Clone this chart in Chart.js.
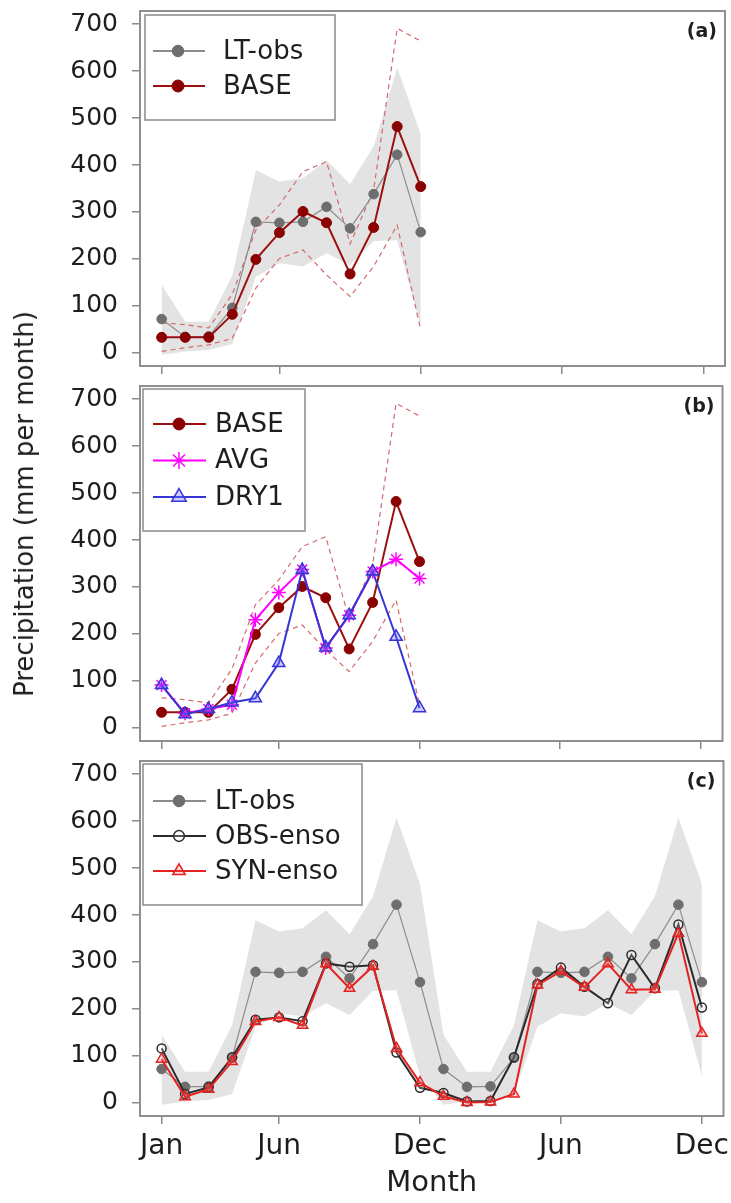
<!DOCTYPE html>
<html>
<head>
<meta charset="utf-8">
<title>Monthly precipitation</title>
<script src="https://cdn.jsdelivr.net/npm/chart.js@4.4.1/dist/chart.umd.min.js"></script>
<style>
  html, body { margin: 0; padding: 0; background: #fff; }
  #page { position: relative; width: 731px; height: 1203px; overflow: hidden; }
  .panel { position: absolute; left: 0; width: 731px; }
  #ylab {
    position: absolute; left: 24px; top: 504px;
    transform: translate(-50%, -50%) rotate(-90deg);
    white-space: nowrap; font: 26px 'DejaVu Sans'; line-height: 1; color: #1e1e1e;
  }
</style>
</head>
<body>
<div id="page">
  <div class="panel" style="top:0;height:376px"><canvas id="chartA"></canvas></div>
  <div class="panel" style="top:376px;height:376px"><canvas id="chartB"></canvas></div>
  <div class="panel" style="top:752px;height:451px"><canvas id="chartC"></canvas></div>
  <div id="ylab">Precipitation (mm per month)</div>
</div>
<script>
// ---- data (mm per month) ----
const months = [1, 2, 3, 4, 5, 6, 7, 8, 9, 10, 11, 12, 13, 14, 15, 16, 17, 18, 19, 20, 21, 22, 23, 24];
const tickMonths = [1, 6, 12, 18, 24];
const tickNames = ['Jan', 'Jun', 'Dec', 'Jun', 'Dec'];
const yTicks = [0, 100, 200, 300, 400, 500, 600, 700];

// long-term observed climatology and its spread
const ltObs = [72, 34, 35, 96, 279, 277, 279, 311, 265, 338, 422, 257];
const ltHigh = [145, 66, 66, 165, 389, 365, 372, 410, 359, 440, 607, 466];
const ltLow = [-4, 3, 6, 19, 162, 191, 184, 212, 187, 238, 240, 57];

// BASE scenario and its range
const base = [33, 33, 33, 82, 199, 256, 301, 277, 168, 267, 482, 354];
const baseHigh = [64, 60, 53, 125, 262, 315, 386, 407, 232, 347, 691, 664];
const baseLow = [3, 11, 17, 31, 138, 201, 219, 166, 120, 184, 272, 49];

const avg = [91, 31, 40, 49, 230, 288, 337, 170, 240, 333, 359, 318];
const dry1 = [91, 29, 40, 54, 63, 138, 336, 171, 240, 333, 194, 42];

// two-year ENSO sequences
const obsEnso = [116, 19, 33, 97, 177, 182, 174, 297, 290, 293, 107, 32,
                 21, 3, 4, 97, 253, 288, 247, 212, 315, 244, 380, 203];
const synEnso = [93, 13, 29, 88, 173, 182, 165, 296, 244, 291, 116, 43,
                 14, 1, 2, 19, 251, 280, 246, 296, 241, 242, 361, 148];

Chart.defaults.font.family = "'DejaVu Sans', sans-serif";
Chart.defaults.color = '#1e1e1e';

const pts = vals => vals.map((v, i) => ({ x: months[i], y: v }));
const TICK = '#8a8a8a';

// box, legend and panel tag
const framePlugin = {
  id: 'frame',
  afterDraw(chart, args, opts) {
    const { ctx, chartArea: a } = chart;
    ctx.save();
    ctx.setLineDash([]);
    ctx.strokeStyle = '#8f8f8f';
    ctx.lineWidth = 2;
    ctx.strokeRect(a.left, a.top, a.right - a.left, a.bottom - a.top);

    const lg = opts.legend;
    const bx = a.left + lg.x, by = a.top + lg.y;
    ctx.fillStyle = '#fff';
    ctx.fillRect(bx, by, lg.w, lg.h);
    ctx.strokeStyle = '#8a8a8a';
    ctx.lineWidth = 1.5;
    ctx.strokeRect(bx, by, lg.w, lg.h);

    lg.rows.forEach((idx, k) => {
      const ds = chart.data.datasets[idx];
      const y = by + lg.first + k * lg.step;
      ctx.setLineDash([]);
      ctx.strokeStyle = ds.borderColor;
      ctx.lineWidth = Math.max(ds.borderWidth, 1.8);
      ctx.beginPath();
      ctx.moveTo(a.left + lg.lineX0, y);
      ctx.lineTo(a.left + lg.lineX1, y);
      ctx.stroke();
      ctx.fillStyle = ds.pointBackgroundColor;
      ctx.strokeStyle = ds.pointBorderColor;
      ctx.lineWidth = ds.pointBorderWidth;
      Chart.helpers.drawPoint(ctx, {
        pointStyle: ds.pointStyle, radius: ds.pointRadius * 1.2,
        borderWidth: ds.pointBorderWidth, rotation: 0
      }, a.left + lg.markX, y);
      ctx.fillStyle = '#1e1e1e';
      ctx.font = "26px 'DejaVu Sans'";
      ctx.textAlign = 'left';
      ctx.textBaseline = 'middle';
      ctx.fillText(ds.label, a.left + lg.textX, y + 1);
    });

    ctx.font = "bold 19px 'DejaVu Sans'";
    ctx.fillStyle = '#1e1e1e';
    ctx.textAlign = 'right';
    ctx.textBaseline = 'middle';
    ctx.fillText(opts.tag, a.right - 8, a.top + 21);
    ctx.restore();
  }
};

function xScale(axisHeight, showLabels) {
  return {
    type: 'linear', min: 0.08, max: 24.92,
    afterBuildTicks: s => { s.ticks = tickMonths.map(v => ({ value: v })); },
    afterFit: s => { s.height = axisHeight; s.paddingLeft = 0; s.paddingRight = 0; },
    grid: { drawOnChartArea: false, drawTicks: true, tickLength: 8, color: TICK, lineWidth: 1.5 },
    border: { display: false },
    ticks: {
      display: showLabels, padding: 6, autoSkip: false, maxRotation: 0,
      font: { size: 28 }, callback: (v, i) => tickNames[i]
    },
    title: {
      display: showLabels, text: 'Month', font: { size: 29 },
      padding: { top: 0, bottom: 2 }
    }
  };
}

function yScale() {
  return {
    min: -28, max: 728,
    afterBuildTicks: s => { s.ticks = yTicks.map(v => ({ value: v })); },
    afterFit: s => { s.width = 140; s.paddingTop = 0; s.paddingBottom = 0; },
    grid: { drawOnChartArea: false, drawTicks: true, tickLength: 8, color: TICK, lineWidth: 1.5 },
    border: { display: false },
    ticks: { padding: 14, font: { size: 25 } }
  };
}

function band(lo, hi) {
  return [
    { label: 'low', data: pts(lo), borderColor: 'rgba(0,0,0,0)', borderWidth: 1, pointRadius: 0, fill: false, order: 20 },
    { label: 'high', data: pts(hi), borderColor: 'rgba(0,0,0,0)', borderWidth: 1, pointRadius: 0, fill: '-1', backgroundColor: '#e3e3e3', order: 20 }
  ];
}

function dashed(vals) {
  return { label: 'range', data: pts(vals), borderColor: '#d46a6a', borderWidth: 1.2, borderDash: [5, 4], pointRadius: 0, fill: false, order: 15 };
}

const ltSeries = vals => ({
  label: 'LT-obs', data: pts(vals), borderColor: '#8c8c8c', borderWidth: 1.2,
  pointStyle: 'circle', pointRadius: 4.8, pointBackgroundColor: '#6e6e6e',
  pointBorderColor: '#6e6e6e', pointBorderWidth: 1, fill: false, order: 10
});
const baseSeries = () => ({
  label: 'BASE', data: pts(base), borderColor: '#9b1111', borderWidth: 2,
  pointStyle: 'circle', pointRadius: 5, pointBackgroundColor: '#8b0000',
  pointBorderColor: '#8b0000', pointBorderWidth: 1, fill: false, order: 5
});

function makeChart(id, datasets, axisHeight, showLabels, padTop, legend, tag) {
  return new Chart(document.getElementById(id), {
    type: 'line',
    data: { datasets },
    options: {
      responsive: true, maintainAspectRatio: false, devicePixelRatio: 1,
      animation: false, events: [],
      layout: { padding: { top: padTop, right: 6, left: 0, bottom: 0 } },
      elements: { line: { tension: 0 } },
      scales: { x: xScale(axisHeight, showLabels), y: yScale() },
      plugins: {
        legend: { display: false },
        tooltip: { enabled: false },
        frame: { legend, tag }
      }
    },
    plugins: [framePlugin]
  });
}

// (a) observed climatology vs BASE
makeChart('chartA', [
  ...band(ltLow, ltHigh),
  dashed(baseHigh),
  dashed(baseLow),
  ltSeries(ltObs),
  baseSeries()
], 10, false, 11,
{ x: 5, y: 4, w: 190, h: 105, first: 36, step: 35, lineX0: 13, lineX1: 65, markX: 38, textX: 83, rows: [4, 5] },
'(a)');

// (b) scenarios
makeChart('chartB', [
  dashed(baseHigh),
  dashed(baseLow),
  baseSeries(),
  { label: 'AVG', data: pts(avg), borderColor: '#ff00ff', borderWidth: 2,
    pointStyle: 'star', pointRadius: 7, pointBackgroundColor: '#ff00ff',
    pointBorderColor: '#ff00ff', pointBorderWidth: 1.5, fill: false, order: 4 },
  { label: 'DRY1', data: pts(dry1), borderColor: '#3636d6', borderWidth: 2,
    pointStyle: 'triangle', pointRadius: 7, pointBackgroundColor: 'rgba(110,110,255,0.35)',
    pointBorderColor: '#3636d6', pointBorderWidth: 1.5, fill: false, order: 3 }
], 11, false, 10,
{ x: 3, y: 3, w: 162, h: 142, first: 35, step: 36.5, lineX0: 13, lineX1: 66, markX: 39, textX: 75, rows: [2, 3, 4] },
'(b)');

// (c) two years of ENSO-conditioned sequences
makeChart('chartC', [
  ...band([...ltLow, ...ltLow], [...ltHigh, ...ltHigh]),
  ltSeries([...ltObs, ...ltObs]),
  { label: 'OBS-enso', data: pts(obsEnso), borderColor: '#2a2a2a', borderWidth: 2,
    pointStyle: 'circle', pointRadius: 4.5, pointBackgroundColor: 'rgba(255,255,255,0.2)',
    pointBorderColor: '#2a2a2a', pointBorderWidth: 1.5, fill: false, order: 4 },
  { label: 'SYN-enso', data: pts(synEnso), borderColor: '#e32222', borderWidth: 2,
    pointStyle: 'triangle', pointRadius: 6, pointBackgroundColor: 'rgba(255,90,90,0.25)',
    pointBorderColor: '#e32222', pointBorderWidth: 1.5, fill: false, order: 3 }
], 87, true, 9,
{ x: 3, y: 3, w: 219, h: 141, first: 37, step: 35, lineX0: 13, lineX1: 66, markX: 39, textX: 75, rows: [2, 3, 4] },
'(c)');
</script>
</body>
</html>
